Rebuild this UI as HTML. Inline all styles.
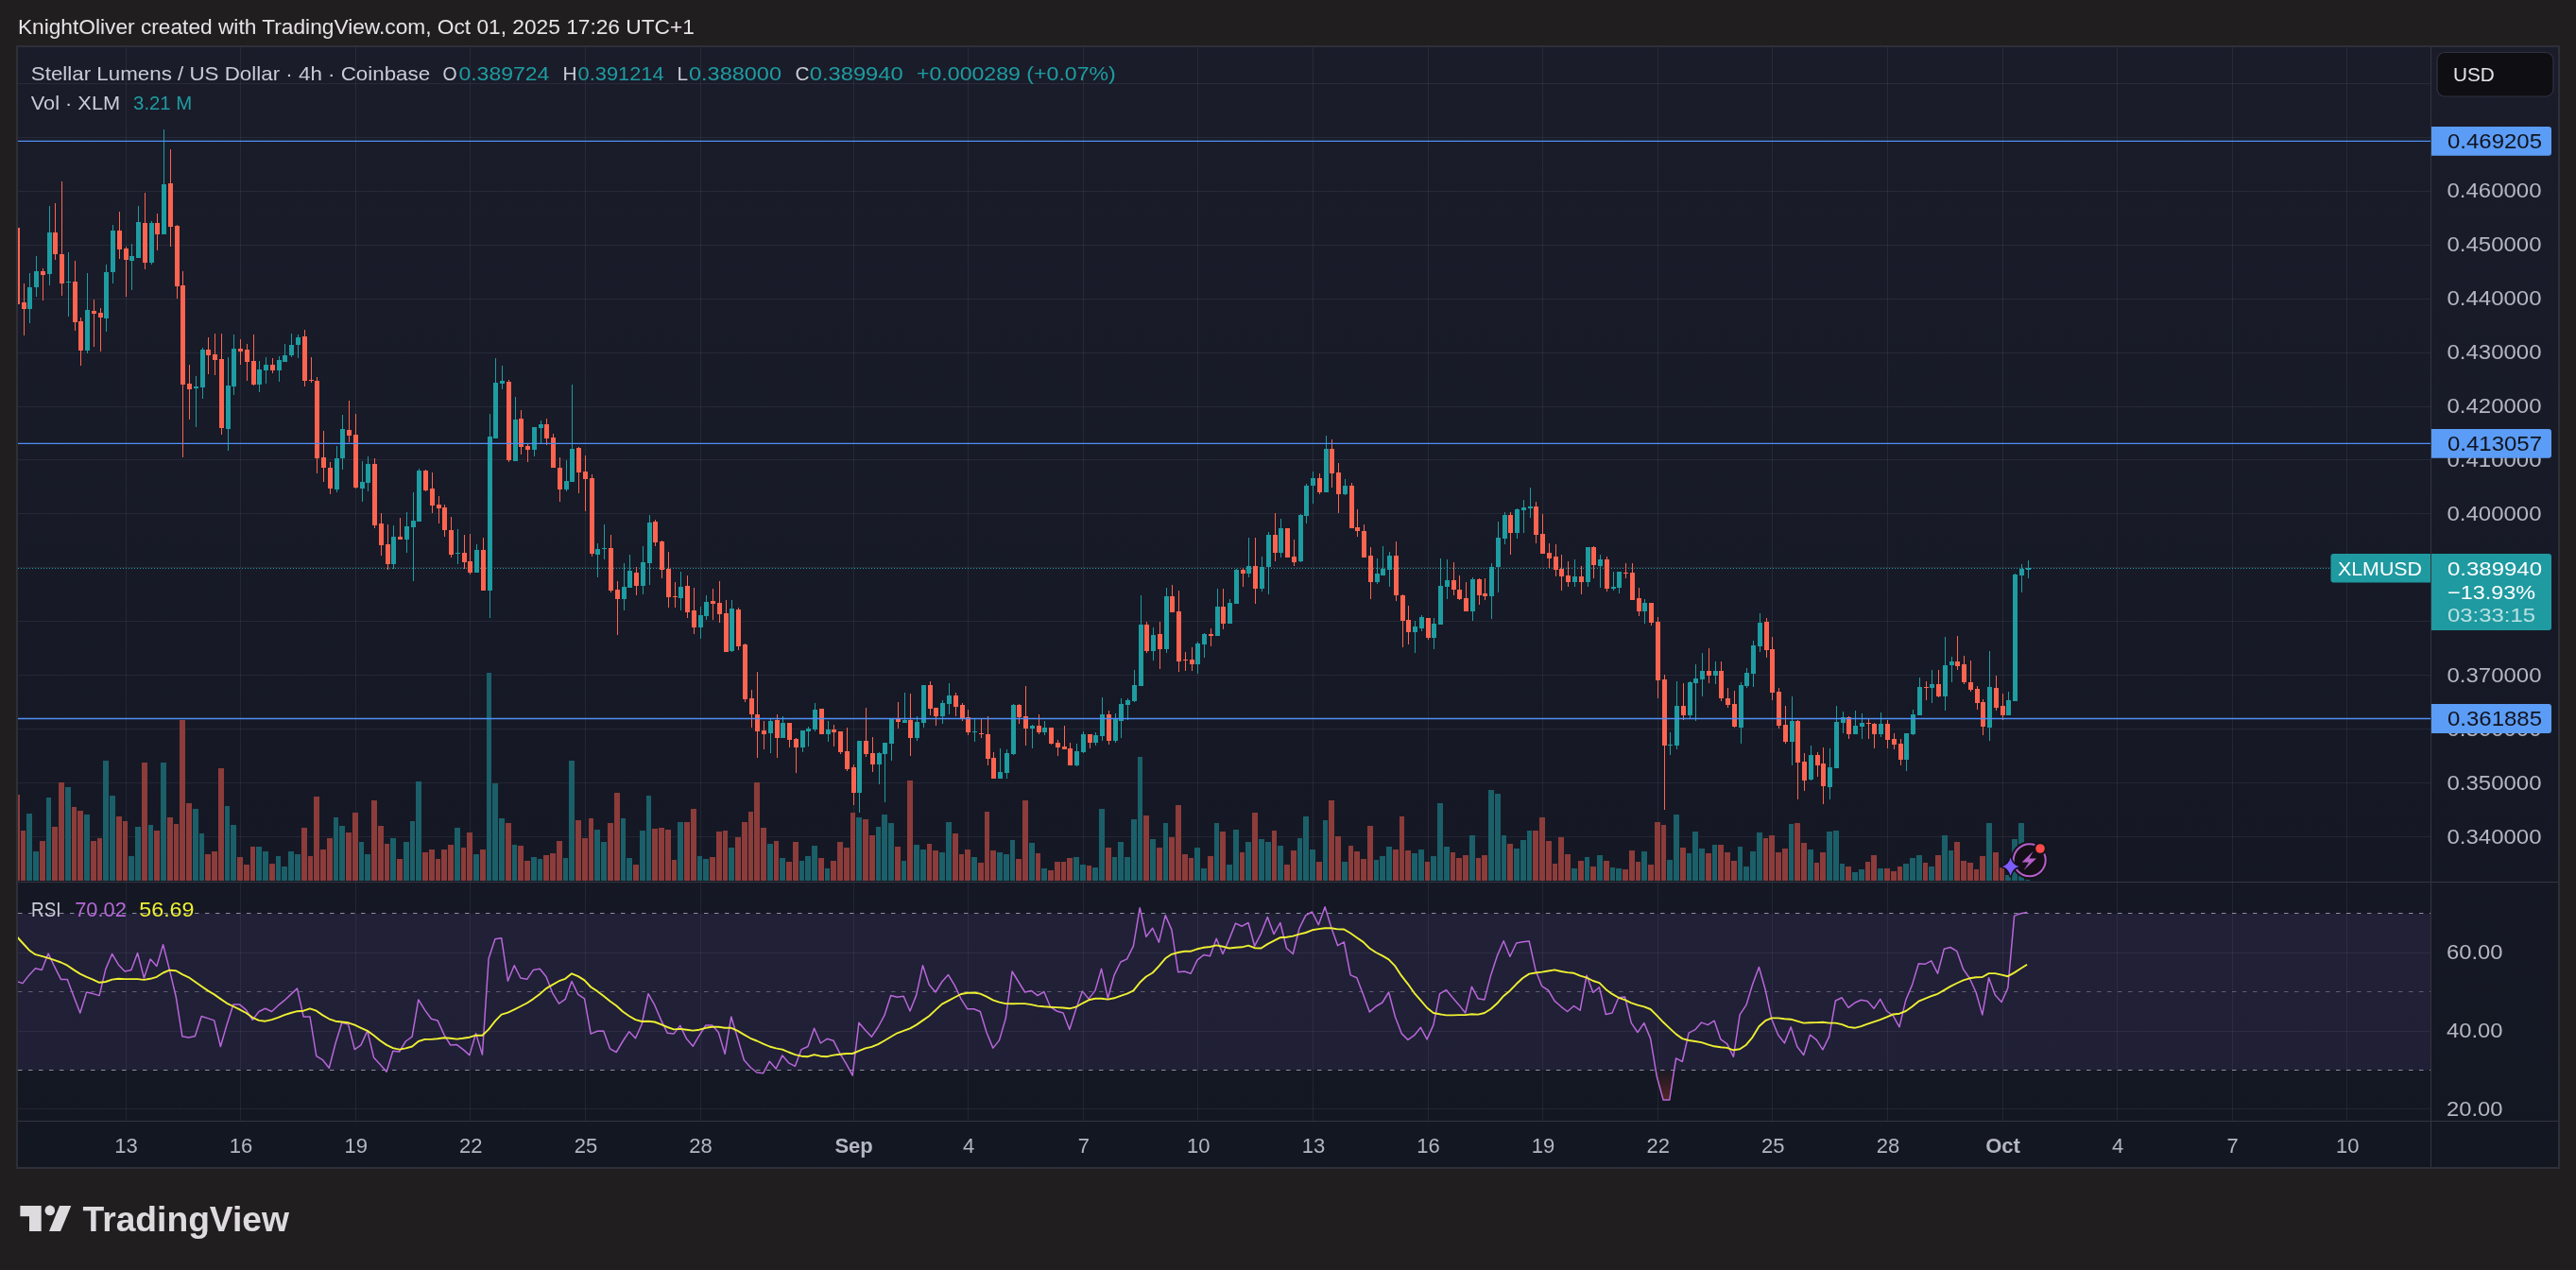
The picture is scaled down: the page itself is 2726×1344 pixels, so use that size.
<!DOCTYPE html>
<html lang="en"><head><meta charset="utf-8"><title>XLMUSD chart</title>
<style>html,body{margin:0;padding:0;background:#211e20;}body{width:2726px;height:1344px;position:relative;overflow:hidden;}</style></head>
<body>
<svg width="2726" height="1344" viewBox="0 0 2726 1344" font-family="'Liberation Sans', Arial, sans-serif" style="position:absolute;left:0;top:0;display:block">
<defs><linearGradient id="bg" x1="0" y1="0" x2="0" y2="1"><stop offset="0" stop-color="#1a1c2a"/><stop offset="1" stop-color="#131722"/></linearGradient><filter id="ff"><feOffset dx="0" dy="0"/></filter><clipPath id="cp"><rect x="19" y="50" width="2553" height="883"/></clipPath><clipPath id="cr"><rect x="19" y="934" width="2553" height="252"/></clipPath></defs>
<rect x="17" y="48" width="2692" height="1189" fill="#2e2f37"/>
<rect x="19" y="50" width="2688" height="1185" fill="url(#bg)"/>
<path d="M133.5 50V1186 M254.5 50V1186 M376.5 50V1186 M497.5 50V1186 M619.5 50V1186 M741.5 50V1186 M903.5 50V1186 M1024.5 50V1186 M1146.5 50V1186 M1267.5 50V1186 M1389.5 50V1186 M1511.5 50V1186 M1632.5 50V1186 M1754.5 50V1186 M1875.5 50V1186 M1997.5 50V1186 M2119.5 50V1186 M2240.5 50V1186 M2362.5 50V1186 M2483.5 50V1186 M19 88.5H2572 M19 145.5H2572 M19 202.5H2572 M19 259.5H2572 M19 316.5H2572 M19 373.5H2572 M19 430.5H2572 M19 486.5H2572 M19 543.5H2572 M19 600.5H2572 M19 657.5H2572 M19 714.5H2572 M19 771.5H2572 M19 828.5H2572 M19 885.5H2572 M19 1008.5H2572 M19 1091.5H2572 M19 1173.5H2572" stroke="#f0f3fa" stroke-opacity="0.065" stroke-width="1" fill="none"/>
<rect x="19" y="966.9" width="2553" height="165.6" fill="#7e57c2" fill-opacity="0.12"/>
<path d="M19 966.5H2572" stroke="#8a8d99" stroke-width="1" stroke-dasharray="4.5 6.5" fill="none"/>
<path d="M19 1049.5H2572" stroke="#5d6070" stroke-width="1" stroke-dasharray="4.5 6.5" fill="none"/>
<path d="M19 1132.5H2572" stroke="#8a8d99" stroke-width="1" stroke-dasharray="4.5 6.5" fill="none"/>
<g clip-path="url(#cp)">
<path d="M28 932V861H34V932ZM35 932V901H41V932ZM49 932V844H54V932ZM69 932V833H75V932ZM89 932V862H95V932ZM109 932V805H115V932ZM116 932V842H122V932ZM136 932V906H142V932ZM143 932V875H149V932ZM157 932V873H162V932ZM170 932V807H176V932ZM204 932V856H210V932ZM211 932V882H216V932ZM238 932V853H243V932ZM244 932V873H250V932ZM271 932V896H277V932ZM278 932V901H284V932ZM292 932V906H297V932ZM298 932V917H304V932ZM305 932V901H311V932ZM312 932V904H318V932ZM353 932V865H358V932ZM359 932V874H365V932ZM380 932V891H385V932ZM386 932V904H392V932ZM413 932V887H419V932ZM427 932V891H433V932ZM434 932V869H439V932ZM440 932V827H446V932ZM481 932V876H487V932ZM501 932V904H507V932ZM515 932V712H520V932ZM521 932V829H527V932ZM528 932V866H534V932ZM542 932V894H547V932ZM562 932V907H568V932ZM569 932V909H574V932ZM596 932V908H601V932ZM602 932V805H608V932ZM629 932V878H635V932ZM636 932V891H642V932ZM657 932V866H662V932ZM663 932V908H669V932ZM677 932V879H683V932ZM684 932V842H689V932ZM717 932V870H723V932ZM738 932V906H743V932ZM744 932V909H750V932ZM771 932V897H777V932ZM812 932V893H818V932ZM825 932V908H831V932ZM846 932V911H851V932ZM852 932V906H858V932ZM859 932V895H865V932ZM873 932V919H878V932ZM906 932V865H912V932ZM927 932V875H932V932ZM933 932V862H939V932ZM940 932V871H946V932ZM954 932V911H959V932ZM967 932V894H973V932ZM974 932V899H980V932ZM994 932V902H1000V932ZM1001 932V870H1007V932ZM1028 932V907H1034V932ZM1055 932V902H1061V932ZM1062 932V904H1068V932ZM1069 932V889H1074V932ZM1089 932V892H1095V932ZM1102 932V919H1108V932ZM1136 932V907H1142V932ZM1143 932V915H1149V932ZM1156 932V918H1162V932ZM1163 932V856H1169V932ZM1177 932V907H1182V932ZM1183 932V891H1189V932ZM1190 932V907H1196V932ZM1197 932V867H1203V932ZM1204 932V801H1209V932ZM1217 932V888H1223V932ZM1231 932V871H1236V932ZM1264 932V897H1270V932ZM1271 932V919H1277V932ZM1285 932V871H1290V932ZM1298 932V915H1304V932ZM1305 932V878H1311V932ZM1318 932V891H1324V932ZM1332 932V888H1338V932ZM1339 932V891H1345V932ZM1352 932V895H1358V932ZM1373 932V887H1378V932ZM1379 932V864H1385V932ZM1386 932V899H1392V932ZM1400 932V868H1405V932ZM1420 932V912H1426V932ZM1454 932V910H1459V932ZM1460 932V906H1466V932ZM1467 932V896H1473V932ZM1494 932V903H1500V932ZM1501 932V899H1507V932ZM1514 932V906H1520V932ZM1521 932V850H1527V932ZM1528 932V896H1534V932ZM1555 932V884H1561V932ZM1575 932V836H1581V932ZM1582 932V840H1588V932ZM1589 932V884H1594V932ZM1602 932V898H1608V932ZM1609 932V889H1615V932ZM1616 932V879H1621V932ZM1663 932V919H1669V932ZM1677 932V907H1682V932ZM1690 932V905H1696V932ZM1704 932V918H1709V932ZM1710 932V919H1716V932ZM1737 932V901H1743V932ZM1764 932V910H1770V932ZM1771 932V862H1777V932ZM1785 932V903H1790V932ZM1791 932V880H1797V932ZM1798 932V898H1804V932ZM1812 932V894H1817V932ZM1839 932V896H1844V932ZM1845 932V917H1851V932ZM1852 932V901H1858V932ZM1859 932V881H1865V932ZM1893 932V872H1898V932ZM1913 932V899H1919V932ZM1933 932V880H1939V932ZM1940 932V879H1946V932ZM1947 932V914H1952V932ZM1960 932V923H1966V932ZM1967 932V920H1973V932ZM1987 932V919H1993V932ZM2014 932V914H2020V932ZM2021 932V908H2027V932ZM2028 932V905H2034V932ZM2041 932V917H2047V932ZM2055 932V884H2061V932ZM2062 932V900H2067V932ZM2102 932V871H2108V932ZM2122 932V926H2128V932ZM2129 932V888H2135V932ZM2136 932V871H2142V932ZM2143 932V931H2148V932Z" fill="#1b5f69"/>
<path d="M15 932V841H21V932ZM22 932V879H27V932ZM42 932V890H48V932ZM55 932V875H61V932ZM62 932V828H68V932ZM76 932V854H81V932ZM82 932V858H88V932ZM96 932V890H102V932ZM103 932V887H108V932ZM123 932V864H129V932ZM130 932V869H135V932ZM150 932V807H156V932ZM163 932V879H169V932ZM177 932V865H183V932ZM184 932V872H189V932ZM190 932V762H196V932ZM197 932V850H203V932ZM217 932V904H223V932ZM224 932V901H230V932ZM231 932V813H237V932ZM251 932V907H257V932ZM258 932V915H264V932ZM265 932V896H270V932ZM285 932V914H291V932ZM319 932V876H325V932ZM326 932V906H331V932ZM332 932V843H338V932ZM339 932V899H345V932ZM346 932V887H352V932ZM366 932V881H372V932ZM373 932V860H379V932ZM393 932V847H399V932ZM400 932V874H406V932ZM407 932V893H412V932ZM420 932V909H426V932ZM447 932V902H453V932ZM454 932V899H460V932ZM461 932V909H466V932ZM467 932V899H473V932ZM474 932V894H480V932ZM488 932V897H493V932ZM494 932V881H500V932ZM508 932V899H514V932ZM535 932V871H541V932ZM548 932V895H554V932ZM555 932V911H561V932ZM575 932V905H581V932ZM582 932V903H588V932ZM589 932V890H595V932ZM609 932V868H615V932ZM616 932V887H622V932ZM623 932V866H628V932ZM643 932V871H649V932ZM650 932V839H656V932ZM670 932V915H676V932ZM690 932V877H696V932ZM697 932V876H703V932ZM704 932V878H710V932ZM711 932V910H716V932ZM724 932V870H730V932ZM731 932V856H737V932ZM751 932V907H757V932ZM758 932V880H764V932ZM765 932V879H770V932ZM778 932V886H784V932ZM785 932V870H791V932ZM792 932V859H797V932ZM798 932V828H804V932ZM805 932V876H811V932ZM819 932V890H824V932ZM832 932V912H838V932ZM839 932V891H845V932ZM866 932V908H872V932ZM879 932V911H885V932ZM886 932V891H892V932ZM893 932V897H899V932ZM900 932V860H905V932ZM913 932V867H919V932ZM920 932V884H926V932ZM947 932V896H953V932ZM960 932V826H966V932ZM981 932V893H986V932ZM987 932V900H993V932ZM1008 932V882H1014V932ZM1015 932V904H1020V932ZM1021 932V899H1027V932ZM1035 932V913H1041V932ZM1042 932V859H1047V932ZM1048 932V900H1054V932ZM1075 932V909H1081V932ZM1082 932V847H1088V932ZM1096 932V903H1101V932ZM1109 932V921H1115V932ZM1116 932V912H1122V932ZM1123 932V912H1128V932ZM1129 932V908H1135V932ZM1150 932V916H1155V932ZM1170 932V897H1176V932ZM1210 932V863H1216V932ZM1224 932V897H1230V932ZM1237 932V886H1243V932ZM1244 932V852H1250V932ZM1251 932V904H1257V932ZM1258 932V908H1263V932ZM1278 932V906H1284V932ZM1291 932V880H1297V932ZM1312 932V902H1317V932ZM1325 932V860H1331V932ZM1346 932V879H1351V932ZM1359 932V915H1365V932ZM1366 932V900H1372V932ZM1393 932V912H1399V932ZM1406 932V847H1412V932ZM1413 932V885H1419V932ZM1427 932V895H1432V932ZM1433 932V901H1439V932ZM1440 932V909H1446V932ZM1447 932V874H1453V932ZM1474 932V899H1480V932ZM1481 932V864H1486V932ZM1487 932V900H1493V932ZM1508 932V912H1513V932ZM1535 932V902H1540V932ZM1541 932V908H1547V932ZM1548 932V905H1554V932ZM1562 932V908H1567V932ZM1568 932V905H1574V932ZM1595 932V893H1601V932ZM1622 932V879H1628V932ZM1629 932V865H1635V932ZM1636 932V890H1642V932ZM1643 932V914H1648V932ZM1649 932V886H1655V932ZM1656 932V904H1662V932ZM1670 932V911H1676V932ZM1683 932V917H1689V932ZM1697 932V911H1703V932ZM1717 932V920H1723V932ZM1724 932V900H1730V932ZM1731 932V912H1736V932ZM1744 932V915H1750V932ZM1751 932V870H1757V932ZM1758 932V873H1763V932ZM1778 932V897H1784V932ZM1805 932V903H1811V932ZM1818 932V894H1824V932ZM1825 932V902H1831V932ZM1832 932V911H1838V932ZM1866 932V887H1871V932ZM1872 932V884H1878V932ZM1879 932V902H1885V932ZM1886 932V898H1892V932ZM1899 932V871H1905V932ZM1906 932V892H1912V932ZM1920 932V913H1925V932ZM1926 932V902H1932V932ZM1953 932V917H1959V932ZM1974 932V912H1979V932ZM1980 932V905H1986V932ZM1994 932V919H2000V932ZM2001 932V922H2007V932ZM2008 932V917H2013V932ZM2035 932V913H2040V932ZM2048 932V905H2054V932ZM2068 932V891H2074V932ZM2075 932V911H2081V932ZM2082 932V913H2088V932ZM2089 932V920H2094V932ZM2095 932V906H2101V932ZM2109 932V902H2115V932ZM2116 932V918H2121V932Z" fill="#8c3c3a"/>
<path d="M19 601.5H2466" stroke="#1e9ca1" stroke-width="1" stroke-dasharray="1 2" fill="none"/>
<path d="M31 289H32V342H31ZM38 271H39V314H38ZM52 218H53V302H52ZM72 267H73V335H72ZM92 289H93V374H92ZM112 280H113V351H112ZM119 238H120V300H119ZM139 258H140V307H139ZM146 218H147V273H146ZM160 234H161V280H160ZM173 137H174V248H173ZM207 398H208V452H207ZM214 368H215V422H214ZM241 378H242V477H241ZM247 354H248V418H247ZM274 382H275V415H274ZM281 378H282V406H281ZM295 377H296V404H295ZM301 364H302V383H301ZM308 353H309V378H308ZM315 354H316V379H315ZM356 472H357V521H356ZM362 439H363V497H362ZM383 488H384V531H383ZM389 483H390V520H389ZM416 556H417V602H416ZM430 542H431V585H430ZM437 521H438V615H437ZM443 496H444V552H443ZM484 560H485V597H484ZM504 576H505V606H504ZM518 438H519V654H518ZM524 379H525V464H524ZM531 387H532V412H531ZM545 420H546V488H545ZM565 452H566V483H565ZM572 445H573V469H572ZM599 487H600V520H599ZM605 407H606V510H605ZM632 575H633V611H632ZM639 555H640V592H639ZM660 596H661V646H660ZM666 587H667V622H666ZM680 578H681V629H680ZM687 545H688V619H687ZM720 605H721V646H720ZM741 642H742V676H741ZM747 630H748V656H747ZM774 635H775V690H774ZM815 761H816V797H815ZM828 758H829V781H828ZM849 773H850V796H849ZM855 769H856V790H855ZM862 744H863V774H862ZM876 763H877V785H876ZM909 784H910V860H909ZM930 796H931V830H930ZM936 786H937V849H936ZM943 761H944V805H943ZM957 733H958V765H957ZM970 758H971V784H970ZM977 725H978V770H977ZM997 741H998V766H997ZM1004 723H1005V756H1004ZM1031 761H1032V785H1031ZM1058 792H1059V824H1058ZM1065 793H1066V824H1065ZM1072 745H1073V799H1072ZM1092 767H1093V792H1092ZM1105 763H1106V778H1105ZM1139 787H1140V811H1139ZM1146 774H1147V797H1146ZM1159 775H1160V789H1159ZM1166 738H1167V784H1166ZM1180 755H1181V786H1180ZM1186 739H1187V781H1186ZM1193 739H1194V762H1193ZM1200 709H1201V743H1200ZM1207 630H1208V726H1207ZM1220 664H1221V699H1220ZM1234 622H1235V691H1234ZM1267 679H1268V713H1267ZM1274 670H1275V696H1274ZM1288 623H1289V673H1288ZM1301 634H1302V660H1301ZM1308 602H1309V639H1308ZM1321 569H1322V611H1321ZM1335 589H1336V626H1335ZM1342 563H1343V629H1342ZM1355 549H1356V590H1355ZM1376 544H1377V595H1376ZM1382 512H1383V554H1382ZM1389 499H1390V533H1389ZM1403 461H1404V521H1403ZM1423 507H1424V524H1423ZM1457 591H1458V618H1457ZM1463 578H1464V609H1463ZM1470 584H1471V621H1470ZM1497 657H1498V691H1497ZM1504 651H1505V668H1504ZM1517 654H1518V687H1517ZM1524 591H1525V661H1524ZM1531 592H1532V634H1531ZM1558 611H1559V657H1558ZM1578 596H1579V655H1578ZM1585 552H1586V627H1585ZM1592 542H1593V576H1592ZM1605 538H1606V570H1605ZM1612 529H1613V564H1612ZM1619 516H1620V548H1619ZM1666 592H1667V621H1666ZM1680 579H1681V621H1680ZM1693 587H1694V622H1693ZM1707 605H1708V625H1707ZM1713 605H1714V628H1713ZM1740 634H1741V660H1740ZM1767 775H1768V799H1767ZM1774 721H1775V793H1774ZM1788 721H1789V760H1788ZM1794 703H1795V763H1794ZM1801 691H1802V737H1801ZM1815 700H1816V724H1815ZM1842 722H1843V787H1842ZM1848 707H1849V728H1848ZM1855 678H1856V727H1855ZM1862 649H1863V690H1862ZM1896 737H1897V810H1896ZM1916 789H1917V826H1916ZM1936 792H1937V846H1936ZM1943 747H1944V813H1943ZM1950 753H1951V776H1950ZM1963 752H1964V777H1963ZM1970 755H1971V782H1970ZM1990 754H1991V780H1990ZM2017 776H2018V816H2017ZM2024 751H2025V778H2024ZM2031 717H2032V757H2031ZM2044 709H2045V744H2044ZM2058 674H2059V752H2058ZM2065 695H2066V722H2065ZM2105 689H2106V784H2105ZM2125 732H2126V757H2125ZM2132 607H2133V742H2132ZM2139 597H2140V627H2139ZM2146 593H2147V612H2146ZM29 304H34V327H29ZM36 287H41V304H36ZM50 246H55V290H50ZM70 298H75V299H70ZM90 328H95V371H90ZM110 288H115V337H110ZM117 244H122V288H117ZM137 271H142V276H137ZM144 235H149V273H144ZM158 236H163V278H158ZM171 195H176V248H171ZM205 409H210V411H205ZM212 370H217V410H212ZM239 408H244V454H239ZM245 369H250V409H245ZM272 391H277V407H272ZM279 386H284V392H279ZM293 381H298V392H293ZM299 376H304V383H299ZM306 365H311V376H306ZM313 357H318V365H313ZM354 485H359V518H354ZM360 454H365V485H360ZM381 510H386V517H381ZM387 491H392V511H387ZM414 568H419V597H414ZM428 557H433V571H428ZM435 551H440V558H435ZM441 498H446V552H441ZM482 585H487V586H482ZM502 582H507V606H502ZM516 462H521V625H516ZM522 405H527V464H522ZM529 403H534V406H529ZM543 444H548V488H543ZM563 452H568V476H563ZM570 449H575V453H570ZM597 509H602V518H597ZM603 475H608V510H603ZM630 581H635V587H630ZM637 580H642V581H637ZM658 621H663V634H658ZM664 604H669V622H664ZM678 595H683V620H678ZM685 553H690V596H685ZM718 621H723V633H718ZM739 651H744V664H739ZM745 637H750V652H745ZM772 644H777V689H772ZM813 763H818V776H813ZM826 765H831V781H826ZM847 773H852V791H847ZM853 771H858V774H853ZM860 751H865V772H860ZM874 772H879V777H874ZM907 784H912V839H907ZM928 797H933V809H928ZM934 786H939V798H934ZM941 761H946V787H941ZM955 762H960V765H955ZM968 764H973V781H968ZM975 725H980V765H975ZM995 744H1000V758H995ZM1002 736H1007V745H1002ZM1029 774H1034V775H1029ZM1056 817H1061V824H1056ZM1063 797H1068V818H1063ZM1070 746H1075V798H1070ZM1090 768H1095V771H1090ZM1103 770H1108V775H1103ZM1137 795H1142V810H1137ZM1144 777H1149V796H1144ZM1157 778H1162V786H1157ZM1164 756H1169V779H1164ZM1178 761H1183V784H1178ZM1184 745H1189V763H1184ZM1191 741H1196V746H1191ZM1198 725H1203V742H1198ZM1205 661H1210V726H1205ZM1218 672H1223V689H1218ZM1232 631H1237V687H1232ZM1265 681H1270V703H1265ZM1272 671H1277V682H1272ZM1286 642H1291V673H1286ZM1299 638H1304V660H1299ZM1306 603H1311V639H1306ZM1319 599H1324V607H1319ZM1333 600H1338V623H1333ZM1340 566H1345V600H1340ZM1353 559H1358V585H1353ZM1374 545H1379V594H1374ZM1380 514H1385V546H1380ZM1387 506H1392V514H1387ZM1401 475H1406V521H1401ZM1421 514H1426V523H1421ZM1455 607H1460V616H1455ZM1461 602H1466V609H1461ZM1468 588H1473V603H1468ZM1495 663H1500V669H1495ZM1502 653H1507V665H1502ZM1515 660H1520V675H1515ZM1522 620H1527V661H1522ZM1529 614H1534V621H1529ZM1556 613H1561V647H1556ZM1576 600H1581V631H1576ZM1583 569H1588V600H1583ZM1590 545H1595V570H1590ZM1603 539H1608V564H1603ZM1610 537H1615V540H1610ZM1617 536H1622V538H1617ZM1664 610H1669V616H1664ZM1678 579H1683V616H1678ZM1691 592H1696V599H1691ZM1705 621H1710V623H1705ZM1711 605H1716V622H1711ZM1738 638H1743V647H1738ZM1765 788H1770V789H1765ZM1772 747H1777V789H1772ZM1786 722H1791V757H1786ZM1792 718H1797V723H1792ZM1799 710H1804V719H1799ZM1813 710H1818V715H1813ZM1840 725H1845V770H1840ZM1846 712H1851V726H1846ZM1853 683H1858V713H1853ZM1860 659H1865V684H1860ZM1894 763H1899V785H1894ZM1914 799H1919V825H1914ZM1934 812H1939V833H1934ZM1941 764H1946V813H1941ZM1948 759H1953V765H1948ZM1961 768H1966V777H1961ZM1968 765H1973V769H1968ZM1988 766H1993V777H1988ZM2015 776H2020V804H2015ZM2022 756H2027V777H2022ZM2029 727H2034V757H2029ZM2042 724H2047V728H2042ZM2056 704H2061V737H2056ZM2063 700H2068V704H2063ZM2103 727H2108V770H2103ZM2123 741H2128V757H2123ZM2130 608H2135V742H2130ZM2137 602H2142V609H2137ZM2144 601H2149V603H2144Z" fill="#1e9ca1"/>
<path d="M18 224H19V335H18ZM25 300H26V355H25ZM45 284H46V318H45ZM58 215H59V275H58ZM65 192H66V313H65ZM79 276H80V350H79ZM85 336H86V387H85ZM99 317H100V367H99ZM106 326H107V372H106ZM126 224H127V274H126ZM133 261H134V314H133ZM153 204H154V285H153ZM166 226H167V265H166ZM180 158H181V261H180ZM187 238H188V316H187ZM193 287H194V484H193ZM200 386H201V444H200ZM220 357H221V396H220ZM227 353H228V397H227ZM234 353H235V460H234ZM254 359H255V386H254ZM261 364H262V403H261ZM268 354H269V408H268ZM288 379H289V395H288ZM322 349H323V409H322ZM329 378H330V405H329ZM335 399H336V501H335ZM342 456H343V510H342ZM349 489H350V523H349ZM369 424H370V468H369ZM376 438H377V517H376ZM396 485H397V559H396ZM403 543H404V588H403ZM410 555H411V603H410ZM423 548H424V571H423ZM450 497H451V520H450ZM457 500H458V543H457ZM464 525H465V554H464ZM470 534H471V568H470ZM477 547H478V590H477ZM491 566H492V602H491ZM497 565H498V608H497ZM511 569H512V625H511ZM538 402H539V489H538ZM551 434H552V481H551ZM558 470H559V489H558ZM578 443H579V471H578ZM585 459H586V495H585ZM592 484H593V531H592ZM612 473H613V522H612ZM619 482H620V541H619ZM626 502H627V589H626ZM646 566H647V627H646ZM653 615H654V672H653ZM673 600H674V630H673ZM693 550H694V578H693ZM700 572H701V612H700ZM707 584H708V643H707ZM714 616H715V643H714ZM727 609H728V654H727ZM734 622H735V671H734ZM754 623H755V656H754ZM761 615H762V659H761ZM768 635H769V690H768ZM781 643H782V688H781ZM788 681H789V743H788ZM795 730H796V770H795ZM801 711H802V802H801ZM808 763H809V793H808ZM822 756H823V802H822ZM835 765H836V791H835ZM842 781H843V818H842ZM869 750H870V777H869ZM882 767H883V790H882ZM889 774H890V798H889ZM896 770H897V816H896ZM903 809H904V852H903ZM916 749H917V801H916ZM923 780H924V817H923ZM950 743H951V771H950ZM963 734H964V800H963ZM984 721H985V757H984ZM990 749H991V768H990ZM1011 733H1012V758H1011ZM1018 744H1019V763H1018ZM1024 751H1025V778H1024ZM1038 760H1039V781H1038ZM1045 758H1046V810H1045ZM1051 796H1052V824H1051ZM1078 745H1079V766H1078ZM1085 726H1086V789H1085ZM1099 756H1100V777H1099ZM1112 770H1113V788H1112ZM1119 783H1120V800H1119ZM1126 768H1127V793H1126ZM1132 786H1133V810H1132ZM1153 777H1154V792H1153ZM1173 752H1174V788H1173ZM1213 658H1214V691H1213ZM1227 658H1228V708H1227ZM1240 619H1241V648H1240ZM1247 625H1248V711H1247ZM1254 690H1255V710H1254ZM1261 685H1262V710H1261ZM1281 665H1282V684H1281ZM1294 623H1295V666H1294ZM1315 601H1316V621H1315ZM1328 569H1329V639H1328ZM1349 543H1350V594H1349ZM1362 559H1363V590H1362ZM1369 571H1370V599H1369ZM1396 501H1397V523H1396ZM1409 465H1410V516H1409ZM1416 490H1417V543H1416ZM1430 511H1431V559H1430ZM1436 539H1437V568H1436ZM1443 555H1444V590H1443ZM1450 579H1451V634H1450ZM1477 573H1478V636H1477ZM1484 629H1485V685H1484ZM1490 641H1491V682H1490ZM1511 654H1512V677H1511ZM1538 595H1539V630H1538ZM1544 609H1545V635H1544ZM1551 616H1552V647H1551ZM1565 612H1566V640H1565ZM1571 612H1572V635H1571ZM1598 542H1599V587H1598ZM1625 531H1626V575H1625ZM1632 544H1633V586H1632ZM1639 575H1640V601H1639ZM1646 576H1647V610H1646ZM1652 587H1653V625H1652ZM1659 594H1660V621H1659ZM1673 599H1674V629H1673ZM1686 578H1687V612H1686ZM1700 589H1701V626H1700ZM1720 596H1721V612H1720ZM1727 596H1728V635H1727ZM1734 622H1735V652H1734ZM1747 638H1748V662H1747ZM1754 653H1755V739H1754ZM1761 714H1762V857H1761ZM1781 723H1782V762H1781ZM1808 686H1809V723H1808ZM1821 700H1822V742H1821ZM1828 728H1829V749H1828ZM1835 731H1836V770H1835ZM1869 654H1870V696H1869ZM1875 674H1876V741H1875ZM1882 728H1883V771H1882ZM1889 747H1890V787H1889ZM1902 762H1903V846H1902ZM1909 797H1910V837H1909ZM1923 796H1924V822H1923ZM1929 791H1930V851H1929ZM1956 758H1957V782H1956ZM1977 761H1978V782H1977ZM1983 765H1984V792H1983ZM1997 762H1998V792H1997ZM2004 776H2005V793H2004ZM2011 782H2012V810H2011ZM2038 721H2039V741H2038ZM2051 709H2052V738H2051ZM2071 673H2072V709H2071ZM2078 694H2079V724H2078ZM2085 699H2086V732H2085ZM2092 726H2093V751H2092ZM2098 740H2099V778H2098ZM2112 715H2113V752H2112ZM2119 734H2120V762H2119ZM16 241H21V322H16ZM23 320H28V327H23ZM43 287H48V291H43ZM56 246H61V269H56ZM63 269H68V300H63ZM77 298H82V341H77ZM83 340H88V371H83ZM97 329H102V332H97ZM104 331H109V336H104ZM124 244H129V264H124ZM131 263H136V275H131ZM151 236H156V278H151ZM164 236H169V248H164ZM178 194H183V240H178ZM185 239H190V303H185ZM191 302H196V407H191ZM198 406H203V412H198ZM218 370H223V376H218ZM225 375H230V381H225ZM232 380H237V453H232ZM252 369H257V372H252ZM259 370H264V383H259ZM266 382H271V407H266ZM286 386H291V392H286ZM320 356H325V403H320ZM327 402H332V403H327ZM333 403H338V485H333ZM340 484H345V495H340ZM347 495H352V517H347ZM367 455H372V461H367ZM374 460H379V516H374ZM394 491H399V556H394ZM401 554H406V577H401ZM408 576H413V597H408ZM421 568H426V571H421ZM448 498H453V519H448ZM455 517H460V535H455ZM462 534H467V538H462ZM468 537H473V561H468ZM475 561H480V587H475ZM489 585H494V595H489ZM495 594H500V606H495ZM509 582H514V625H509ZM536 404H541V487H536ZM549 443H554V473H549ZM556 472H561V476H556ZM576 449H581V464H576ZM583 463H588V495H583ZM590 495H595V518H590ZM610 474H615V500H610ZM617 499H622V507H617ZM624 506H629V586H624ZM644 580H649V625H644ZM651 624H656V634H651ZM671 606H676V620H671ZM691 552H696V574H691ZM698 573H703V603H698ZM705 602H710V632H705ZM712 631H717V632H712ZM725 620H730V648H725ZM732 646H737V664H732ZM752 636H757V639H752ZM759 638H764V650H759ZM766 649H771V690H766ZM779 645H784V684H779ZM786 682H791V740H786ZM793 739H798V756H793ZM799 756H804V774H799ZM806 773H811V777H806ZM820 762H825V781H820ZM833 765H838V783H833ZM840 782H845V791H840ZM867 750H872V777H867ZM880 772H885V775H880ZM887 774H892V796H887ZM894 795H899V814H894ZM901 812H906V839H901ZM914 784H919V798H914ZM921 797H926V809H921ZM948 761H953V764H948ZM961 762H966V781H961ZM982 725H987V750H982ZM988 749H993V758H988ZM1009 736H1014V748H1009ZM1016 746H1021V760H1016ZM1022 759H1027V775H1022ZM1036 776H1041V777H1036ZM1043 777H1048V803H1043ZM1049 802H1054V824H1049ZM1076 746H1081V759H1076ZM1083 758H1088V771H1083ZM1097 768H1102V775H1097ZM1110 770H1115V787H1110ZM1117 786H1122V791H1117ZM1124 790H1129V793H1124ZM1130 792H1135V810H1130ZM1151 777H1156V786H1151ZM1171 756H1176V784H1171ZM1211 661H1216V689H1211ZM1225 671H1230V687H1225ZM1238 631H1243V648H1238ZM1245 647H1250V700H1245ZM1252 698H1257V699H1252ZM1259 698H1264V703H1259ZM1279 671H1284V673H1279ZM1292 642H1297V660H1292ZM1313 603H1318V607H1313ZM1326 599H1331V623H1326ZM1347 566H1352V585H1347ZM1360 559H1365V590H1360ZM1367 589H1372V595H1367ZM1394 506H1399V521H1394ZM1407 475H1412V501H1407ZM1414 500H1419V523H1414ZM1428 514H1433V559H1428ZM1434 558H1439V562H1434ZM1441 562H1446V590H1441ZM1448 588H1453V616H1448ZM1475 588H1480V630H1475ZM1482 630H1487V657H1482ZM1488 656H1493V669H1488ZM1509 654H1514V675H1509ZM1536 614H1541V624H1536ZM1542 624H1547V634H1542ZM1549 633H1554V647H1549ZM1563 613H1568V630H1563ZM1569 628H1574V631H1569ZM1596 545H1601V564H1596ZM1623 536H1628V566H1623ZM1630 565H1635V586H1630ZM1637 585H1642V591H1637ZM1644 589H1649V603H1644ZM1650 602H1655V610H1650ZM1657 609H1662V616H1657ZM1671 610H1676V616H1671ZM1684 579H1689V598H1684ZM1698 592H1703V623H1698ZM1718 606H1723V607H1718ZM1725 606H1730V635H1725ZM1732 633H1737V647H1732ZM1745 638H1750V659H1745ZM1752 658H1757V720H1752ZM1759 719H1764V789H1759ZM1779 747H1784V757H1779ZM1806 710H1811V715H1806ZM1819 710H1824V739H1819ZM1826 739H1831V746H1826ZM1833 745H1838V769H1833ZM1867 658H1872V688H1867ZM1873 687H1878V733H1873ZM1880 732H1885V768H1880ZM1887 767H1892V785H1887ZM1900 763H1905V807H1900ZM1907 806H1912V826H1907ZM1921 799H1926V810H1921ZM1927 808H1932V832H1927ZM1954 759H1959V777H1954ZM1975 765H1980V766H1975ZM1981 766H1986V777H1981ZM1995 766H2000V783H1995ZM2002 782H2007V788H2002ZM2009 787H2014V804H2009ZM2036 727H2041V728H2036ZM2049 724H2054V737H2049ZM2069 700H2074V705H2069ZM2076 703H2081V722H2076ZM2083 722H2088V730H2083ZM2090 729H2095V744H2090ZM2096 743H2101V769H2096ZM2110 728H2115V749H2110ZM2117 747H2122V757H2117Z" fill="#fd6450"/>
<path d="M19 149.4H2572" stroke="#4f8ff7" stroke-width="1.35" fill="none"/>
<path d="M19 469.4H2572" stroke="#4f8ff7" stroke-width="1.35" fill="none"/>
<path d="M19 760.5H2572" stroke="#4f8ff7" stroke-width="1.35" fill="none"/>
</g>
<g clip-path="url(#cr)">
<clipPath id="c30"><rect x="19" y="1133" width="2553" height="53"/></clipPath><clipPath id="c70"><rect x="19" y="934" width="2553" height="32"/></clipPath>
<linearGradient id="g30" gradientUnits="userSpaceOnUse" x1="0" y1="1133" x2="0" y2="1172"><stop offset="0" stop-color="#c0392b" stop-opacity="0.05"/><stop offset="1" stop-color="#c0392b" stop-opacity="0.45"/></linearGradient>
<linearGradient id="g70" gradientUnits="userSpaceOnUse" x1="0" y1="966" x2="0" y2="950"><stop offset="0" stop-color="#2e8b57" stop-opacity="0.05"/><stop offset="1" stop-color="#2e8b57" stop-opacity="0.45"/></linearGradient>
<path d="M17.3 1038.5L24.0 1040.6L30.8 1031.9L37.5 1024.8L44.3 1026.4L51.1 1009.1L57.8 1023.2L64.6 1036.6L71.3 1036.6L78.1 1054.7L84.8 1072.0L91.6 1050.0L98.3 1051.6L105.1 1053.6L111.8 1025.6L118.6 1009.5L125.4 1020.9L132.1 1028.0L138.9 1026.4L145.6 1008.6L152.4 1035.0L159.1 1014.9L165.9 1022.4L172.6 999.6L179.4 1026.4L186.2 1054.7L192.9 1096.8L199.7 1098.0L206.4 1096.5L213.2 1075.5L219.9 1077.6L226.7 1079.9L233.4 1107.5L240.2 1083.9L246.9 1063.1L253.7 1063.1L260.5 1068.9L267.2 1079.4L274.0 1070.5L280.7 1067.3L287.5 1070.5L294.2 1064.2L301.0 1058.7L307.7 1052.4L314.5 1046.1L321.2 1076.0L328.0 1076.0L334.8 1117.7L341.5 1121.7L348.3 1130.3L355.0 1104.3L361.8 1082.3L368.5 1083.9L375.3 1110.6L382.0 1105.9L388.8 1090.9L395.6 1119.3L402.3 1126.4L409.1 1134.3L415.8 1112.2L422.6 1113.0L429.3 1102.0L436.1 1097.2L442.8 1057.9L449.6 1068.9L456.4 1078.3L463.1 1079.9L469.9 1094.9L476.6 1105.9L483.4 1105.6L490.1 1110.6L496.9 1116.6L503.6 1093.6L510.4 1116.1L517.1 1014.6L523.9 993.8L530.7 992.8L537.4 1038.2L544.2 1021.7L550.9 1035.0L557.7 1036.3L564.4 1026.4L571.2 1025.3L577.9 1033.5L584.7 1050.8L591.5 1062.1L598.2 1057.4L605.0 1038.5L611.7 1052.4L618.5 1056.8L625.2 1094.1L632.0 1091.3L638.7 1090.9L645.5 1109.8L652.2 1113.5L659.0 1102.0L665.8 1091.7L672.5 1098.8L679.3 1083.5L686.0 1051.6L692.8 1063.7L699.5 1079.4L706.3 1093.3L713.0 1094.1L719.8 1085.4L726.5 1099.3L733.3 1107.2L740.1 1095.7L746.8 1085.0L753.6 1085.0L760.3 1092.5L767.1 1115.4L773.8 1076.0L780.6 1098.8L787.3 1121.7L794.1 1129.5L800.9 1135.0L807.6 1135.8L814.4 1123.2L821.1 1131.1L827.9 1116.9L834.6 1124.8L841.4 1128.3L848.1 1110.6L854.9 1107.5L861.6 1088.3L868.4 1104.0L875.2 1099.3L881.9 1101.2L888.7 1114.6L895.4 1125.6L902.2 1138.2L908.9 1082.3L915.7 1090.2L922.4 1097.2L929.2 1087.0L936.0 1074.4L942.7 1053.6L949.5 1055.2L956.2 1054.3L963.0 1070.0L969.7 1053.1L976.5 1021.7L983.2 1042.1L990.0 1050.0L996.8 1039.0L1003.5 1031.6L1010.3 1042.9L1017.0 1057.1L1023.8 1067.8L1030.5 1067.8L1037.3 1070.5L1044.0 1092.5L1050.8 1109.1L1057.5 1100.9L1064.3 1077.6L1071.1 1028.0L1077.8 1039.0L1084.6 1050.0L1091.3 1048.4L1098.1 1053.6L1104.8 1049.5L1111.6 1065.7L1118.3 1070.0L1125.1 1072.0L1131.8 1089.4L1138.6 1068.1L1145.4 1048.9L1152.1 1057.1L1158.9 1048.4L1165.6 1025.3L1172.4 1056.3L1179.1 1031.9L1185.9 1018.0L1192.6 1014.9L1199.4 1001.2L1206.2 960.7L1212.9 991.3L1219.7 982.3L1226.4 997.2L1233.2 968.6L1239.9 983.9L1246.7 1028.7L1253.4 1028.0L1260.2 1030.3L1266.9 1016.1L1273.7 1010.6L1280.5 1011.7L1287.2 993.3L1294.0 1009.5L1300.7 994.1L1307.5 977.1L1314.2 980.2L1321.0 976.5L1327.7 1001.2L1334.5 987.8L1341.3 970.5L1348.0 988.6L1354.8 976.5L1361.5 1003.5L1368.3 1009.5L1375.0 982.3L1381.8 968.6L1388.5 965.0L1395.3 978.7L1402.1 959.8L1408.8 981.5L1415.6 1000.7L1422.3 996.9L1429.1 1031.9L1435.8 1034.7L1442.6 1052.4L1449.3 1070.9L1456.1 1065.0L1462.8 1061.0L1469.6 1050.0L1476.4 1076.0L1483.1 1093.6L1489.9 1100.4L1496.6 1095.7L1503.4 1087.3L1510.1 1099.9L1516.9 1084.6L1523.6 1051.6L1530.4 1047.6L1537.2 1055.8L1543.9 1063.4L1550.7 1072.0L1557.4 1044.2L1564.2 1056.8L1570.9 1057.9L1577.7 1031.9L1584.4 1011.4L1591.2 995.7L1597.9 1012.2L1604.7 998.0L1611.5 996.8L1618.2 996.0L1625.0 1026.7L1631.7 1043.7L1638.5 1048.0L1645.2 1059.4L1652.0 1065.3L1658.7 1070.5L1665.5 1064.5L1672.2 1069.2L1679.0 1032.2L1685.8 1050.3L1692.5 1044.8L1699.3 1073.5L1706.0 1072.0L1712.8 1055.8L1719.5 1055.0L1726.3 1082.6L1733.0 1092.5L1739.8 1082.6L1746.6 1099.1L1753.3 1139.3L1760.1 1164.0L1766.8 1164.0L1773.6 1119.9L1780.3 1123.5L1787.1 1093.1L1793.8 1089.7L1800.6 1082.1L1807.3 1084.6L1814.1 1080.2L1820.9 1099.9L1827.6 1104.6L1834.4 1118.3L1841.1 1073.9L1847.9 1063.7L1854.6 1041.7L1861.4 1023.5L1868.1 1047.2L1874.9 1078.7L1881.7 1095.2L1888.4 1103.9L1895.2 1086.9L1901.9 1107.8L1908.7 1116.5L1915.4 1095.2L1922.2 1100.4L1928.9 1110.9L1935.7 1096.8L1942.4 1059.0L1949.2 1055.8L1956.0 1066.4L1962.7 1061.3L1969.5 1058.2L1976.2 1059.4L1983.0 1067.3L1989.7 1057.4L1996.5 1070.0L2003.2 1074.7L2010.0 1086.9L2016.8 1058.2L2023.5 1042.4L2030.3 1019.8L2037.0 1020.3L2043.8 1016.9L2050.5 1030.2L2057.3 1004.3L2064.0 1002.5L2070.8 1006.6L2077.6 1025.8L2084.3 1035.3L2091.1 1050.2L2097.8 1073.9L2104.6 1034.8L2111.3 1053.1L2118.1 1060.5L2124.8 1045.5L2131.6 969.1L2138.3 966.8L2145.1 965.5L2145.1 1049.5L17.3 1049.5Z" fill="url(#g30)" clip-path="url(#c30)"/>
<path d="M17.3 1038.5L24.0 1040.6L30.8 1031.9L37.5 1024.8L44.3 1026.4L51.1 1009.1L57.8 1023.2L64.6 1036.6L71.3 1036.6L78.1 1054.7L84.8 1072.0L91.6 1050.0L98.3 1051.6L105.1 1053.6L111.8 1025.6L118.6 1009.5L125.4 1020.9L132.1 1028.0L138.9 1026.4L145.6 1008.6L152.4 1035.0L159.1 1014.9L165.9 1022.4L172.6 999.6L179.4 1026.4L186.2 1054.7L192.9 1096.8L199.7 1098.0L206.4 1096.5L213.2 1075.5L219.9 1077.6L226.7 1079.9L233.4 1107.5L240.2 1083.9L246.9 1063.1L253.7 1063.1L260.5 1068.9L267.2 1079.4L274.0 1070.5L280.7 1067.3L287.5 1070.5L294.2 1064.2L301.0 1058.7L307.7 1052.4L314.5 1046.1L321.2 1076.0L328.0 1076.0L334.8 1117.7L341.5 1121.7L348.3 1130.3L355.0 1104.3L361.8 1082.3L368.5 1083.9L375.3 1110.6L382.0 1105.9L388.8 1090.9L395.6 1119.3L402.3 1126.4L409.1 1134.3L415.8 1112.2L422.6 1113.0L429.3 1102.0L436.1 1097.2L442.8 1057.9L449.6 1068.9L456.4 1078.3L463.1 1079.9L469.9 1094.9L476.6 1105.9L483.4 1105.6L490.1 1110.6L496.9 1116.6L503.6 1093.6L510.4 1116.1L517.1 1014.6L523.9 993.8L530.7 992.8L537.4 1038.2L544.2 1021.7L550.9 1035.0L557.7 1036.3L564.4 1026.4L571.2 1025.3L577.9 1033.5L584.7 1050.8L591.5 1062.1L598.2 1057.4L605.0 1038.5L611.7 1052.4L618.5 1056.8L625.2 1094.1L632.0 1091.3L638.7 1090.9L645.5 1109.8L652.2 1113.5L659.0 1102.0L665.8 1091.7L672.5 1098.8L679.3 1083.5L686.0 1051.6L692.8 1063.7L699.5 1079.4L706.3 1093.3L713.0 1094.1L719.8 1085.4L726.5 1099.3L733.3 1107.2L740.1 1095.7L746.8 1085.0L753.6 1085.0L760.3 1092.5L767.1 1115.4L773.8 1076.0L780.6 1098.8L787.3 1121.7L794.1 1129.5L800.9 1135.0L807.6 1135.8L814.4 1123.2L821.1 1131.1L827.9 1116.9L834.6 1124.8L841.4 1128.3L848.1 1110.6L854.9 1107.5L861.6 1088.3L868.4 1104.0L875.2 1099.3L881.9 1101.2L888.7 1114.6L895.4 1125.6L902.2 1138.2L908.9 1082.3L915.7 1090.2L922.4 1097.2L929.2 1087.0L936.0 1074.4L942.7 1053.6L949.5 1055.2L956.2 1054.3L963.0 1070.0L969.7 1053.1L976.5 1021.7L983.2 1042.1L990.0 1050.0L996.8 1039.0L1003.5 1031.6L1010.3 1042.9L1017.0 1057.1L1023.8 1067.8L1030.5 1067.8L1037.3 1070.5L1044.0 1092.5L1050.8 1109.1L1057.5 1100.9L1064.3 1077.6L1071.1 1028.0L1077.8 1039.0L1084.6 1050.0L1091.3 1048.4L1098.1 1053.6L1104.8 1049.5L1111.6 1065.7L1118.3 1070.0L1125.1 1072.0L1131.8 1089.4L1138.6 1068.1L1145.4 1048.9L1152.1 1057.1L1158.9 1048.4L1165.6 1025.3L1172.4 1056.3L1179.1 1031.9L1185.9 1018.0L1192.6 1014.9L1199.4 1001.2L1206.2 960.7L1212.9 991.3L1219.7 982.3L1226.4 997.2L1233.2 968.6L1239.9 983.9L1246.7 1028.7L1253.4 1028.0L1260.2 1030.3L1266.9 1016.1L1273.7 1010.6L1280.5 1011.7L1287.2 993.3L1294.0 1009.5L1300.7 994.1L1307.5 977.1L1314.2 980.2L1321.0 976.5L1327.7 1001.2L1334.5 987.8L1341.3 970.5L1348.0 988.6L1354.8 976.5L1361.5 1003.5L1368.3 1009.5L1375.0 982.3L1381.8 968.6L1388.5 965.0L1395.3 978.7L1402.1 959.8L1408.8 981.5L1415.6 1000.7L1422.3 996.9L1429.1 1031.9L1435.8 1034.7L1442.6 1052.4L1449.3 1070.9L1456.1 1065.0L1462.8 1061.0L1469.6 1050.0L1476.4 1076.0L1483.1 1093.6L1489.9 1100.4L1496.6 1095.7L1503.4 1087.3L1510.1 1099.9L1516.9 1084.6L1523.6 1051.6L1530.4 1047.6L1537.2 1055.8L1543.9 1063.4L1550.7 1072.0L1557.4 1044.2L1564.2 1056.8L1570.9 1057.9L1577.7 1031.9L1584.4 1011.4L1591.2 995.7L1597.9 1012.2L1604.7 998.0L1611.5 996.8L1618.2 996.0L1625.0 1026.7L1631.7 1043.7L1638.5 1048.0L1645.2 1059.4L1652.0 1065.3L1658.7 1070.5L1665.5 1064.5L1672.2 1069.2L1679.0 1032.2L1685.8 1050.3L1692.5 1044.8L1699.3 1073.5L1706.0 1072.0L1712.8 1055.8L1719.5 1055.0L1726.3 1082.6L1733.0 1092.5L1739.8 1082.6L1746.6 1099.1L1753.3 1139.3L1760.1 1164.0L1766.8 1164.0L1773.6 1119.9L1780.3 1123.5L1787.1 1093.1L1793.8 1089.7L1800.6 1082.1L1807.3 1084.6L1814.1 1080.2L1820.9 1099.9L1827.6 1104.6L1834.4 1118.3L1841.1 1073.9L1847.9 1063.7L1854.6 1041.7L1861.4 1023.5L1868.1 1047.2L1874.9 1078.7L1881.7 1095.2L1888.4 1103.9L1895.2 1086.9L1901.9 1107.8L1908.7 1116.5L1915.4 1095.2L1922.2 1100.4L1928.9 1110.9L1935.7 1096.8L1942.4 1059.0L1949.2 1055.8L1956.0 1066.4L1962.7 1061.3L1969.5 1058.2L1976.2 1059.4L1983.0 1067.3L1989.7 1057.4L1996.5 1070.0L2003.2 1074.7L2010.0 1086.9L2016.8 1058.2L2023.5 1042.4L2030.3 1019.8L2037.0 1020.3L2043.8 1016.9L2050.5 1030.2L2057.3 1004.3L2064.0 1002.5L2070.8 1006.6L2077.6 1025.8L2084.3 1035.3L2091.1 1050.2L2097.8 1073.9L2104.6 1034.8L2111.3 1053.1L2118.1 1060.5L2124.8 1045.5L2131.6 969.1L2138.3 966.8L2145.1 965.5L2145.1 1049.5L17.3 1049.5Z" fill="url(#g70)" clip-path="url(#c70)"/>
<path d="M17.3 1038.5L24.0 1040.6L30.8 1031.9L37.5 1024.8L44.3 1026.4L51.1 1009.1L57.8 1023.2L64.6 1036.6L71.3 1036.6L78.1 1054.7L84.8 1072.0L91.6 1050.0L98.3 1051.6L105.1 1053.6L111.8 1025.6L118.6 1009.5L125.4 1020.9L132.1 1028.0L138.9 1026.4L145.6 1008.6L152.4 1035.0L159.1 1014.9L165.9 1022.4L172.6 999.6L179.4 1026.4L186.2 1054.7L192.9 1096.8L199.7 1098.0L206.4 1096.5L213.2 1075.5L219.9 1077.6L226.7 1079.9L233.4 1107.5L240.2 1083.9L246.9 1063.1L253.7 1063.1L260.5 1068.9L267.2 1079.4L274.0 1070.5L280.7 1067.3L287.5 1070.5L294.2 1064.2L301.0 1058.7L307.7 1052.4L314.5 1046.1L321.2 1076.0L328.0 1076.0L334.8 1117.7L341.5 1121.7L348.3 1130.3L355.0 1104.3L361.8 1082.3L368.5 1083.9L375.3 1110.6L382.0 1105.9L388.8 1090.9L395.6 1119.3L402.3 1126.4L409.1 1134.3L415.8 1112.2L422.6 1113.0L429.3 1102.0L436.1 1097.2L442.8 1057.9L449.6 1068.9L456.4 1078.3L463.1 1079.9L469.9 1094.9L476.6 1105.9L483.4 1105.6L490.1 1110.6L496.9 1116.6L503.6 1093.6L510.4 1116.1L517.1 1014.6L523.9 993.8L530.7 992.8L537.4 1038.2L544.2 1021.7L550.9 1035.0L557.7 1036.3L564.4 1026.4L571.2 1025.3L577.9 1033.5L584.7 1050.8L591.5 1062.1L598.2 1057.4L605.0 1038.5L611.7 1052.4L618.5 1056.8L625.2 1094.1L632.0 1091.3L638.7 1090.9L645.5 1109.8L652.2 1113.5L659.0 1102.0L665.8 1091.7L672.5 1098.8L679.3 1083.5L686.0 1051.6L692.8 1063.7L699.5 1079.4L706.3 1093.3L713.0 1094.1L719.8 1085.4L726.5 1099.3L733.3 1107.2L740.1 1095.7L746.8 1085.0L753.6 1085.0L760.3 1092.5L767.1 1115.4L773.8 1076.0L780.6 1098.8L787.3 1121.7L794.1 1129.5L800.9 1135.0L807.6 1135.8L814.4 1123.2L821.1 1131.1L827.9 1116.9L834.6 1124.8L841.4 1128.3L848.1 1110.6L854.9 1107.5L861.6 1088.3L868.4 1104.0L875.2 1099.3L881.9 1101.2L888.7 1114.6L895.4 1125.6L902.2 1138.2L908.9 1082.3L915.7 1090.2L922.4 1097.2L929.2 1087.0L936.0 1074.4L942.7 1053.6L949.5 1055.2L956.2 1054.3L963.0 1070.0L969.7 1053.1L976.5 1021.7L983.2 1042.1L990.0 1050.0L996.8 1039.0L1003.5 1031.6L1010.3 1042.9L1017.0 1057.1L1023.8 1067.8L1030.5 1067.8L1037.3 1070.5L1044.0 1092.5L1050.8 1109.1L1057.5 1100.9L1064.3 1077.6L1071.1 1028.0L1077.8 1039.0L1084.6 1050.0L1091.3 1048.4L1098.1 1053.6L1104.8 1049.5L1111.6 1065.7L1118.3 1070.0L1125.1 1072.0L1131.8 1089.4L1138.6 1068.1L1145.4 1048.9L1152.1 1057.1L1158.9 1048.4L1165.6 1025.3L1172.4 1056.3L1179.1 1031.9L1185.9 1018.0L1192.6 1014.9L1199.4 1001.2L1206.2 960.7L1212.9 991.3L1219.7 982.3L1226.4 997.2L1233.2 968.6L1239.9 983.9L1246.7 1028.7L1253.4 1028.0L1260.2 1030.3L1266.9 1016.1L1273.7 1010.6L1280.5 1011.7L1287.2 993.3L1294.0 1009.5L1300.7 994.1L1307.5 977.1L1314.2 980.2L1321.0 976.5L1327.7 1001.2L1334.5 987.8L1341.3 970.5L1348.0 988.6L1354.8 976.5L1361.5 1003.5L1368.3 1009.5L1375.0 982.3L1381.8 968.6L1388.5 965.0L1395.3 978.7L1402.1 959.8L1408.8 981.5L1415.6 1000.7L1422.3 996.9L1429.1 1031.9L1435.8 1034.7L1442.6 1052.4L1449.3 1070.9L1456.1 1065.0L1462.8 1061.0L1469.6 1050.0L1476.4 1076.0L1483.1 1093.6L1489.9 1100.4L1496.6 1095.7L1503.4 1087.3L1510.1 1099.9L1516.9 1084.6L1523.6 1051.6L1530.4 1047.6L1537.2 1055.8L1543.9 1063.4L1550.7 1072.0L1557.4 1044.2L1564.2 1056.8L1570.9 1057.9L1577.7 1031.9L1584.4 1011.4L1591.2 995.7L1597.9 1012.2L1604.7 998.0L1611.5 996.8L1618.2 996.0L1625.0 1026.7L1631.7 1043.7L1638.5 1048.0L1645.2 1059.4L1652.0 1065.3L1658.7 1070.5L1665.5 1064.5L1672.2 1069.2L1679.0 1032.2L1685.8 1050.3L1692.5 1044.8L1699.3 1073.5L1706.0 1072.0L1712.8 1055.8L1719.5 1055.0L1726.3 1082.6L1733.0 1092.5L1739.8 1082.6L1746.6 1099.1L1753.3 1139.3L1760.1 1164.0L1766.8 1164.0L1773.6 1119.9L1780.3 1123.5L1787.1 1093.1L1793.8 1089.7L1800.6 1082.1L1807.3 1084.6L1814.1 1080.2L1820.9 1099.9L1827.6 1104.6L1834.4 1118.3L1841.1 1073.9L1847.9 1063.7L1854.6 1041.7L1861.4 1023.5L1868.1 1047.2L1874.9 1078.7L1881.7 1095.2L1888.4 1103.9L1895.2 1086.9L1901.9 1107.8L1908.7 1116.5L1915.4 1095.2L1922.2 1100.4L1928.9 1110.9L1935.7 1096.8L1942.4 1059.0L1949.2 1055.8L1956.0 1066.4L1962.7 1061.3L1969.5 1058.2L1976.2 1059.4L1983.0 1067.3L1989.7 1057.4L1996.5 1070.0L2003.2 1074.7L2010.0 1086.9L2016.8 1058.2L2023.5 1042.4L2030.3 1019.8L2037.0 1020.3L2043.8 1016.9L2050.5 1030.2L2057.3 1004.3L2064.0 1002.5L2070.8 1006.6L2077.6 1025.8L2084.3 1035.3L2091.1 1050.2L2097.8 1073.9L2104.6 1034.8L2111.3 1053.1L2118.1 1060.5L2124.8 1045.5L2131.6 969.1L2138.3 966.8L2145.1 965.5" stroke="#b767d8" stroke-width="1.5" fill="none" stroke-linejoin="round"/>
<path d="M17.3 990.6L24.0 998.0L30.8 1005.4L37.5 1010.2L44.3 1011.9L51.1 1013.8L57.8 1016.1L64.6 1018.5L71.3 1021.7L78.1 1026.4L84.8 1030.6L91.6 1033.8L98.3 1036.6L105.1 1039.8L111.8 1039.0L118.6 1036.6L125.4 1035.8L132.1 1036.1L138.9 1036.1L145.6 1036.1L152.4 1036.9L159.1 1035.8L165.9 1033.8L172.6 1029.5L179.4 1026.7L186.2 1027.2L192.9 1031.1L199.7 1034.3L206.4 1039.0L213.2 1043.7L219.9 1048.4L226.7 1052.4L233.4 1057.1L240.2 1061.8L246.9 1065.0L253.7 1068.4L260.5 1072.0L267.2 1076.8L274.0 1079.9L280.7 1080.7L287.5 1079.1L294.2 1076.8L301.0 1074.1L307.7 1072.0L314.5 1070.2L321.2 1069.7L328.0 1067.3L334.8 1069.7L341.5 1074.4L348.3 1078.3L355.0 1080.7L361.8 1081.5L368.5 1082.3L375.3 1084.6L382.0 1087.8L388.8 1090.9L395.6 1095.7L402.3 1101.2L409.1 1105.9L415.8 1109.1L422.6 1110.6L429.3 1109.4L436.1 1107.5L442.8 1102.0L449.6 1099.9L456.4 1099.9L463.1 1099.3L469.9 1098.3L476.6 1098.8L483.4 1099.6L490.1 1098.8L496.9 1097.7L503.6 1095.7L510.4 1095.7L517.1 1089.4L523.9 1080.7L530.7 1073.6L537.4 1071.6L544.2 1068.4L550.9 1065.0L557.7 1061.5L564.4 1057.1L571.2 1052.0L577.9 1046.1L584.7 1042.1L591.5 1038.2L598.2 1035.8L605.0 1030.3L611.7 1033.1L618.5 1037.4L625.2 1044.5L632.0 1048.9L638.7 1053.9L645.5 1059.4L652.2 1064.2L659.0 1070.5L665.8 1075.2L672.5 1079.1L679.3 1081.0L686.0 1080.7L692.8 1081.5L699.5 1084.2L706.3 1087.0L713.0 1089.4L719.8 1088.9L726.5 1089.8L733.3 1090.6L740.1 1089.7L746.8 1087.8L753.6 1086.7L760.3 1086.7L767.1 1087.8L773.8 1087.8L780.6 1090.9L787.3 1094.9L794.1 1098.8L800.9 1101.5L807.6 1104.6L814.4 1107.5L821.1 1109.4L827.9 1110.6L834.6 1113.5L841.4 1116.1L848.1 1117.7L854.9 1118.2L861.6 1116.1L868.4 1117.7L875.2 1118.2L881.9 1116.6L888.7 1115.7L895.4 1115.0L902.2 1115.0L908.9 1112.2L915.7 1109.4L922.4 1107.8L929.2 1105.1L936.0 1101.2L942.7 1097.2L949.5 1093.3L956.2 1090.9L963.0 1088.3L969.7 1084.6L976.5 1079.9L983.2 1075.2L990.0 1068.9L996.8 1062.6L1003.5 1059.1L1010.3 1055.5L1017.0 1052.0L1023.8 1050.8L1030.5 1050.5L1037.3 1051.6L1044.0 1054.7L1050.8 1058.3L1057.5 1060.6L1064.3 1062.1L1071.1 1062.3L1077.8 1062.1L1084.6 1062.1L1091.3 1063.1L1098.1 1064.6L1104.8 1065.3L1111.6 1065.7L1118.3 1066.1L1125.1 1066.5L1131.8 1067.3L1138.6 1065.7L1145.4 1061.8L1152.1 1058.3L1158.9 1056.8L1165.6 1056.8L1172.4 1057.6L1179.1 1056.3L1185.9 1053.9L1192.6 1051.6L1199.4 1048.4L1206.2 1039.8L1212.9 1033.5L1219.7 1029.5L1226.4 1022.4L1233.2 1014.3L1239.9 1009.8L1246.7 1008.0L1253.4 1006.7L1260.2 1006.7L1266.9 1004.3L1273.7 1002.8L1280.5 1002.0L1287.2 1000.4L1294.0 1001.7L1300.7 1003.5L1307.5 1002.8L1314.2 1002.3L1321.0 1000.7L1327.7 1003.2L1334.5 1003.5L1341.3 999.1L1348.0 995.7L1354.8 992.2L1361.5 991.7L1368.3 990.6L1375.0 988.6L1381.8 987.0L1388.5 984.3L1395.3 983.1L1402.1 982.3L1408.8 982.3L1415.6 983.4L1422.3 983.5L1429.1 987.5L1435.8 992.2L1442.6 996.9L1449.3 1003.5L1456.1 1008.0L1462.8 1011.4L1469.6 1015.4L1476.4 1022.4L1483.1 1032.7L1489.9 1041.3L1496.6 1050.8L1503.4 1058.7L1510.1 1066.5L1516.9 1072.0L1523.6 1073.3L1530.4 1074.4L1537.2 1074.4L1543.9 1074.1L1550.7 1074.1L1557.4 1073.3L1564.2 1073.6L1570.9 1072.0L1577.7 1067.8L1584.4 1061.8L1591.2 1053.9L1597.9 1048.4L1604.7 1041.3L1611.5 1035.0L1618.2 1030.6L1625.0 1029.5L1631.7 1028.6L1638.5 1027.5L1645.2 1026.4L1652.0 1028.0L1658.7 1029.1L1665.5 1029.8L1672.2 1032.7L1679.0 1034.6L1685.8 1038.0L1692.5 1040.1L1699.3 1046.9L1706.0 1051.9L1712.8 1055.8L1719.5 1058.2L1726.3 1061.3L1733.0 1063.7L1739.8 1065.3L1746.6 1068.0L1753.3 1074.7L1760.1 1081.8L1766.8 1088.1L1773.6 1094.4L1780.3 1099.1L1787.1 1101.0L1793.8 1102.0L1800.6 1103.1L1807.3 1105.4L1814.1 1107.3L1820.9 1108.3L1827.6 1108.9L1834.4 1111.3L1841.1 1110.2L1847.9 1105.7L1854.6 1097.6L1861.4 1086.2L1868.1 1080.2L1874.9 1077.4L1881.7 1077.4L1888.4 1078.2L1895.2 1078.7L1901.9 1080.6L1908.7 1082.6L1915.4 1082.3L1922.2 1082.1L1928.9 1081.8L1935.7 1082.6L1942.4 1082.6L1949.2 1084.2L1956.0 1086.9L1962.7 1087.8L1969.5 1086.2L1976.2 1083.7L1983.0 1081.3L1989.7 1079.1L1996.5 1076.3L2003.2 1073.5L2010.0 1072.7L2016.8 1070.0L2023.5 1065.2L2030.3 1059.7L2037.0 1056.9L2043.8 1054.2L2050.5 1051.8L2057.3 1047.9L2064.0 1043.9L2070.8 1040.5L2077.6 1037.3L2084.3 1035.3L2091.1 1034.2L2097.8 1034.0L2104.6 1030.1L2111.3 1030.1L2118.1 1031.7L2124.8 1033.2L2131.6 1029.4L2138.3 1025.0L2145.1 1020.8" stroke="#eef031" stroke-width="1.9" fill="none" stroke-linejoin="round"/>
</g>
<path d="M19 933.5H2707M19 1186.5H2707M2572.5 50V1235" stroke="#33363f" stroke-width="1" fill="none"/>
<g filter="url(#ff)"><text x="2589.5" y="209.4" font-size="22" fill="#b4b7c1" textLength="100" lengthAdjust="spacingAndGlyphs">0.460000</text></g>
<g filter="url(#ff)"><text x="2589.5" y="266.3" font-size="22" fill="#b4b7c1" textLength="100" lengthAdjust="spacingAndGlyphs">0.450000</text></g>
<g filter="url(#ff)"><text x="2589.5" y="323.3" font-size="22" fill="#b4b7c1" textLength="100" lengthAdjust="spacingAndGlyphs">0.440000</text></g>
<g filter="url(#ff)"><text x="2589.5" y="380.2" font-size="22" fill="#b4b7c1" textLength="100" lengthAdjust="spacingAndGlyphs">0.430000</text></g>
<g filter="url(#ff)"><text x="2589.5" y="437.1" font-size="22" fill="#b4b7c1" textLength="100" lengthAdjust="spacingAndGlyphs">0.420000</text></g>
<g filter="url(#ff)"><text x="2589.5" y="494.1" font-size="22" fill="#b4b7c1" textLength="100" lengthAdjust="spacingAndGlyphs">0.410000</text></g>
<g filter="url(#ff)"><text x="2589.5" y="551.0" font-size="22" fill="#b4b7c1" textLength="100" lengthAdjust="spacingAndGlyphs">0.400000</text></g>
<g filter="url(#ff)"><text x="2589.5" y="607.9" font-size="22" fill="#b4b7c1" textLength="100" lengthAdjust="spacingAndGlyphs">0.390000</text></g>
<g filter="url(#ff)"><text x="2589.5" y="664.9" font-size="22" fill="#b4b7c1" textLength="100" lengthAdjust="spacingAndGlyphs">0.380000</text></g>
<g filter="url(#ff)"><text x="2589.5" y="721.8" font-size="22" fill="#b4b7c1" textLength="100" lengthAdjust="spacingAndGlyphs">0.370000</text></g>
<g filter="url(#ff)"><text x="2589.5" y="778.7" font-size="22" fill="#b4b7c1" textLength="100" lengthAdjust="spacingAndGlyphs">0.360000</text></g>
<g filter="url(#ff)"><text x="2589.5" y="835.6" font-size="22" fill="#b4b7c1" textLength="100" lengthAdjust="spacingAndGlyphs">0.350000</text></g>
<g filter="url(#ff)"><text x="2589.5" y="892.6" font-size="22" fill="#b4b7c1" textLength="100" lengthAdjust="spacingAndGlyphs">0.340000</text></g>
<g filter="url(#ff)"><text x="2589" y="1015.2" font-size="22" fill="#b4b7c1" textLength="59.6" lengthAdjust="spacingAndGlyphs">60.00</text></g>
<g filter="url(#ff)"><text x="2589" y="1098.0" font-size="22" fill="#b4b7c1" textLength="59.6" lengthAdjust="spacingAndGlyphs">40.00</text></g>
<g filter="url(#ff)"><text x="2589" y="1180.8" font-size="22" fill="#b4b7c1" textLength="59.6" lengthAdjust="spacingAndGlyphs">20.00</text></g>
<g filter="url(#ff)"><text x="133.5" y="1220.0" font-size="22" fill="#b4b7c1" text-anchor="middle">13</text></g>
<g filter="url(#ff)"><text x="255.1" y="1220.0" font-size="22" fill="#b4b7c1" text-anchor="middle">16</text></g>
<g filter="url(#ff)"><text x="376.7" y="1220.0" font-size="22" fill="#b4b7c1" text-anchor="middle">19</text></g>
<g filter="url(#ff)"><text x="498.3" y="1220.0" font-size="22" fill="#b4b7c1" text-anchor="middle">22</text></g>
<g filter="url(#ff)"><text x="619.9" y="1220.0" font-size="22" fill="#b4b7c1" text-anchor="middle">25</text></g>
<g filter="url(#ff)"><text x="741.5" y="1220.0" font-size="22" fill="#b4b7c1" text-anchor="middle">28</text></g>
<g filter="url(#ff)"><text x="903.6" y="1220.0" font-size="22" fill="#b4b7c1" font-weight="700" text-anchor="middle">Sep</text></g>
<g filter="url(#ff)"><text x="1025.2" y="1220.0" font-size="22" fill="#b4b7c1" text-anchor="middle">4</text></g>
<g filter="url(#ff)"><text x="1146.8" y="1220.0" font-size="22" fill="#b4b7c1" text-anchor="middle">7</text></g>
<g filter="url(#ff)"><text x="1268.3" y="1220.0" font-size="22" fill="#b4b7c1" text-anchor="middle">10</text></g>
<g filter="url(#ff)"><text x="1389.9" y="1220.0" font-size="22" fill="#b4b7c1" text-anchor="middle">13</text></g>
<g filter="url(#ff)"><text x="1511.5" y="1220.0" font-size="22" fill="#b4b7c1" text-anchor="middle">16</text></g>
<g filter="url(#ff)"><text x="1633.1" y="1220.0" font-size="22" fill="#b4b7c1" text-anchor="middle">19</text></g>
<g filter="url(#ff)"><text x="1754.7" y="1220.0" font-size="22" fill="#b4b7c1" text-anchor="middle">22</text></g>
<g filter="url(#ff)"><text x="1876.3" y="1220.0" font-size="22" fill="#b4b7c1" text-anchor="middle">25</text></g>
<g filter="url(#ff)"><text x="1997.9" y="1220.0" font-size="22" fill="#b4b7c1" text-anchor="middle">28</text></g>
<g filter="url(#ff)"><text x="2119.5" y="1220.0" font-size="22" fill="#b4b7c1" font-weight="700" text-anchor="middle">Oct</text></g>
<g filter="url(#ff)"><text x="2241.1" y="1220.0" font-size="22" fill="#b4b7c1" text-anchor="middle">4</text></g>
<g filter="url(#ff)"><text x="2362.7" y="1220.0" font-size="22" fill="#b4b7c1" text-anchor="middle">7</text></g>
<g filter="url(#ff)"><text x="2484.2" y="1220.0" font-size="22" fill="#b4b7c1" text-anchor="middle">10</text></g>
<path d="M2573 134.0H2697a3 3 0 0 1 3 3V161.8a3 3 0 0 1 -3 3H2573Z" fill="#5b9cf6"/>
<g filter="url(#ff)"><text x="2590" y="157.1" font-size="22" fill="#10131c" textLength="100" lengthAdjust="spacingAndGlyphs">0.469205</text></g>
<path d="M2573 454.0H2697a3 3 0 0 1 3 3V481.8a3 3 0 0 1 -3 3H2573Z" fill="#5b9cf6"/>
<g filter="url(#ff)"><text x="2590" y="477.1" font-size="22" fill="#10131c" textLength="100" lengthAdjust="spacingAndGlyphs">0.413057</text></g>
<path d="M2573 745.1H2697a3 3 0 0 1 3 3V772.9a3 3 0 0 1 -3 3H2573Z" fill="#5b9cf6"/>
<g filter="url(#ff)"><text x="2590" y="768.2" font-size="22" fill="#10131c" textLength="100" lengthAdjust="spacingAndGlyphs">0.361885</text></g>
<path d="M2573 586H2697a3 3 0 0 1 3 3V664a3 3 0 0 1 -3 3H2573Z" fill="#1f9aa1"/>
<path d="M2469.5 586H2572V616.5H2469.5a3 3 0 0 1 -3 -3V589a3 3 0 0 1 3 -3Z" fill="#1f9aa1"/>
<g filter="url(#ff)"><text x="2474" y="609" font-size="20.8" fill="#ffffff" textLength="89" lengthAdjust="spacingAndGlyphs">XLMUSD</text></g>
<g filter="url(#ff)"><text x="2590" y="609" font-size="20.8" fill="#ffffff" textLength="100" lengthAdjust="spacingAndGlyphs">0.389940</text></g>
<g filter="url(#ff)"><text x="2590" y="633.8" font-size="20.8" fill="#ffffff" textLength="93" lengthAdjust="spacingAndGlyphs">−13.93%</text></g>
<g filter="url(#ff)"><text x="2590" y="657.8" font-size="20.8" fill="#b9e1e3" textLength="93" lengthAdjust="spacingAndGlyphs">03:33:15</text></g>
<rect x="2579" y="55.5" width="123" height="46.5" rx="8" fill="#0f0e12" stroke="#2f3241" stroke-width="1.2"/>
<g filter="url(#ff)"><text x="2596" y="86" font-size="20.8" fill="#e4e4e8" textLength="43.8" lengthAdjust="spacingAndGlyphs">USD</text></g>
<g filter="url(#ff)"><text x="32.8" y="84.8" font-size="20.8" fill="#c9ccd6" textLength="422.3" lengthAdjust="spacingAndGlyphs">Stellar Lumens / US Dollar · 4h · Coinbase</text></g>
<g filter="url(#ff)"><text x="468.4" y="84.8" font-size="20.8" fill="#c9ccd6" textLength="15.1" lengthAdjust="spacingAndGlyphs">O</text></g>
<g filter="url(#ff)"><text x="485.4" y="84.8" font-size="20.8" fill="#1e9ca1" textLength="96" lengthAdjust="spacingAndGlyphs">0.389724</text></g>
<g filter="url(#ff)"><text x="595.4" y="84.8" font-size="20.8" fill="#c9ccd6">H</text></g>
<g filter="url(#ff)"><text x="611.6" y="84.8" font-size="20.8" fill="#1e9ca1" textLength="91" lengthAdjust="spacingAndGlyphs">0.391214</text></g>
<g filter="url(#ff)"><text x="716.4" y="84.8" font-size="20.8" fill="#c9ccd6">L</text></g>
<g filter="url(#ff)"><text x="729" y="84.8" font-size="20.8" fill="#1e9ca1" textLength="98" lengthAdjust="spacingAndGlyphs">0.388000</text></g>
<g filter="url(#ff)"><text x="841.4" y="84.8" font-size="20.8" fill="#c9ccd6">C</text></g>
<g filter="url(#ff)"><text x="856.7" y="84.8" font-size="20.8" fill="#1e9ca1" textLength="99" lengthAdjust="spacingAndGlyphs">0.389940</text></g>
<g filter="url(#ff)"><text x="970" y="84.8" font-size="20.8" fill="#1e9ca1" textLength="210.8" lengthAdjust="spacingAndGlyphs">+0.000289 (+0.07%)</text></g>
<g filter="url(#ff)"><text x="32.8" y="116" font-size="20.8" fill="#c9ccd6" textLength="94.3" lengthAdjust="spacingAndGlyphs">Vol · XLM</text></g>
<g filter="url(#ff)"><text x="141.1" y="116" font-size="20.8" fill="#1e9ca1" textLength="62.2" lengthAdjust="spacingAndGlyphs">3.21 M</text></g>
<g filter="url(#ff)"><text x="33" y="970" font-size="21.6" fill="#c9ccd6" textLength="31.5" lengthAdjust="spacingAndGlyphs">RSI</text></g>
<g filter="url(#ff)"><text x="79.2" y="970" font-size="21.6" fill="#b767d8" textLength="54.6" lengthAdjust="spacingAndGlyphs">70.02</text></g>
<g filter="url(#ff)"><text x="147.3" y="970" font-size="21.6" fill="#eef031" textLength="58.2" lengthAdjust="spacingAndGlyphs">56.69</text></g>
<g filter="url(#ff)"><text x="18.9" y="36" font-size="22" fill="#e6e3e6" textLength="716" lengthAdjust="spacingAndGlyphs">KnightOliver created with TradingView.com, Oct 01, 2025 17:26 UTC+1</text></g>
<path d="M21.4 1276H43.7V1303H31V1287.2H21.4Z M63.1 1276H75.3L64 1303H52Z" fill="#dedbde"/><circle cx="52.8" cy="1280.9" r="5.3" fill="#dedbde"/>
<g filter="url(#ff)"><text x="87.5" y="1303" font-size="37" fill="#dedbde" textLength="218.5" lengthAdjust="spacingAndGlyphs" font-weight="700">TradingView</text></g>
<g><circle cx="2147.7" cy="910.2" r="20" fill="#14121c"/><circle cx="2147.7" cy="910.2" r="17" fill="#140f18" stroke="#b45fc9" stroke-width="2"/><path d="M2151.5 901L2139.5 912.5H2147L2141.5 921L2155 908.5H2147.5Z" fill="#b45fc9"/><circle cx="2159" cy="898" r="7.2" fill="#14121c"/><circle cx="2159" cy="898" r="4.8" fill="#ff4a4a"/><path d="M2127.6 907.5Q2129.4 915.2 2136.6 917Q2129.4 918.8 2127.6 927Q2125.8 918.8 2118.6 917Q2125.8 915.2 2127.6 907.5Z" fill="#7c5cfc" stroke="#14121c" stroke-width="3.2" paint-order="stroke" stroke-linejoin="round"/></g>
</svg>
</body></html>
